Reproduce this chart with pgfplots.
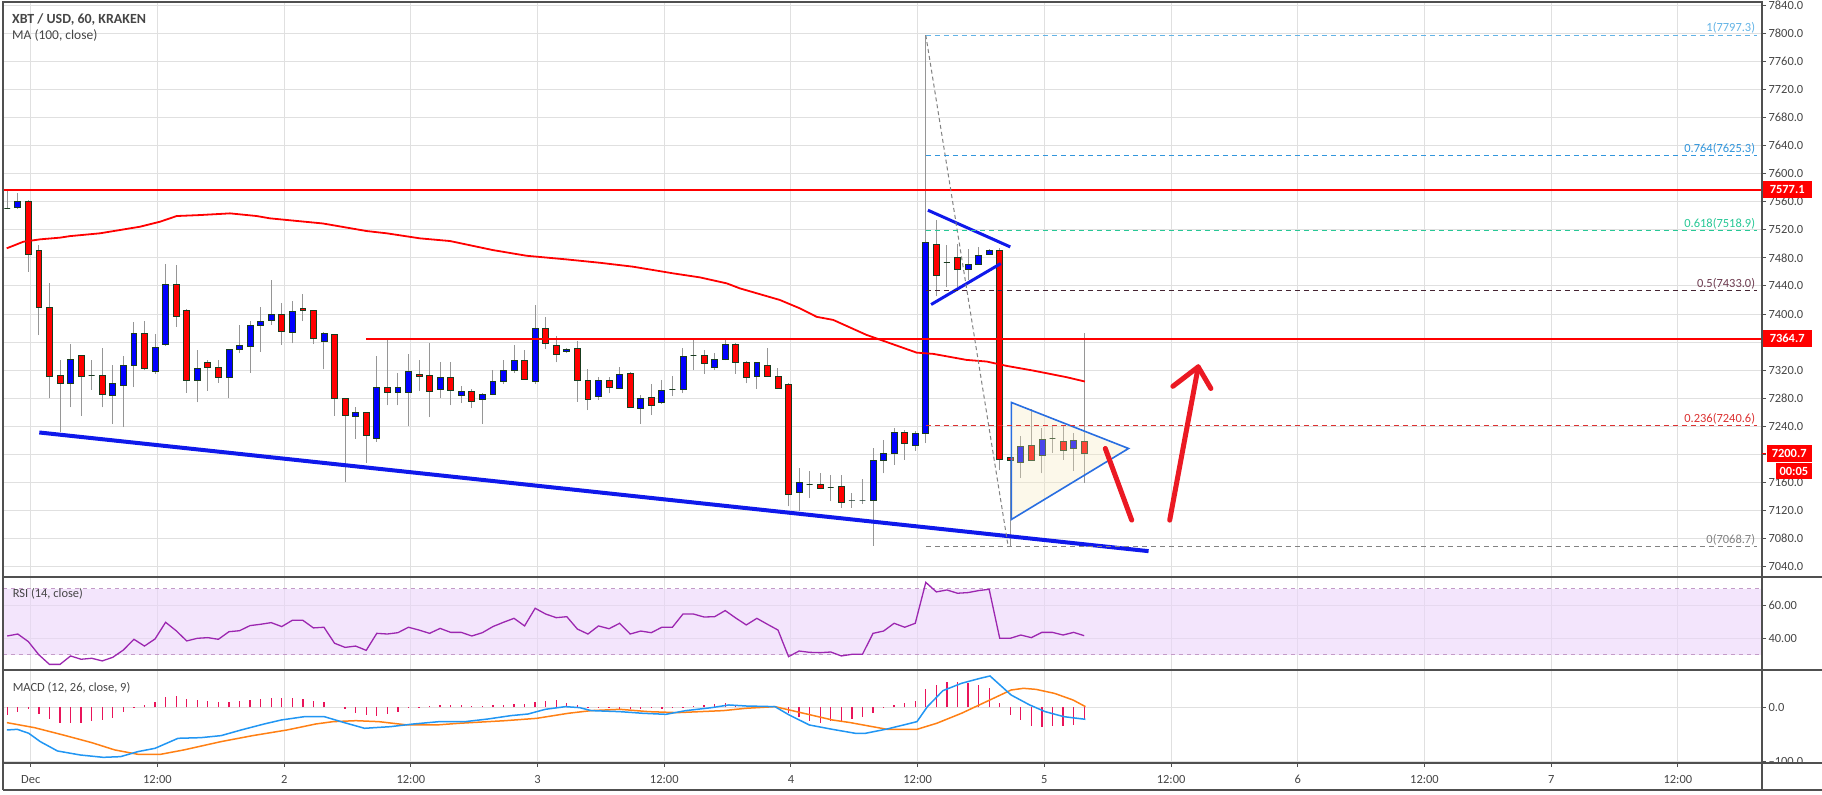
\documentclass[border=0pt]{standalone}
\usepackage{fontspec}
\setmainfont{Carlito}
\usepackage{pgfplots}
\usepackage{pgfplotstable}
\pgfplotsset{compat=1.18}
\definecolor{upc}{RGB}{0,0,255}
\definecolor{downc}{RGB}{255,0,0}
\definecolor{edgec}{RGB}{25,60,30}
\definecolor{wickc}{RGB}{150,150,150}
\definecolor{gridc}{RGB}{224,224,224}
\definecolor{framec}{RGB}{80,80,80}
\definecolor{tickc}{RGB}{70,70,70}
\definecolor{mac}{RGB}{255,0,0}
\definecolor{resc}{RGB}{255,0,0}
\definecolor{trendc}{RGB}{15,25,235}
\definecolor{tric}{RGB}{40,110,225}
\definecolor{trifill}{RGB}{248,235,188}
\definecolor{arrowc}{RGB}{235,25,35}
\definecolor{fibA}{RGB}{100,180,230}
\definecolor{fibB}{RGB}{50,150,220}
\definecolor{fibC}{RGB}{40,200,150}
\definecolor{fibD}{RGB}{70,35,50}
\definecolor{fibDt}{RGB}{110,60,80}
\definecolor{fibE}{RGB}{220,50,50}
\definecolor{fibF}{RGB}{130,130,130}
\definecolor{bandc}{RGB}{235,213,250}
\definecolor{banddash}{RGB}{195,155,200}
\definecolor{rsic}{RGB}{156,39,176}
\definecolor{macdc}{RGB}{33,150,243}
\definecolor{sigc}{RGB}{255,128,20}
\definecolor{histc}{RGB}{233,20,90}
\newcommand\fs{\fontsize{12.5}{14}\selectfont}

\pgfplotstableread{
k o h l c
-2 7551 7577 7549 7551
-1 7552 7573 7550 7560
0 7560 7562 7460 7485
1 7491 7498 7370 7410
2 7410 7444 7280 7311
3 7312 7335 7232 7301
4 7301 7357 7267 7335
5 7341 7342 7255 7311
6 7313 7335 7292 7313
7 7313 7351 7267 7285
8 7284 7327 7244 7301
9 7298 7340 7239 7327
10 7327 7389 7296 7372
11 7372 7390 7320 7322
12 7318 7372 7315 7353
13 7357 7471 7355 7442
14 7442 7470 7382 7396
15 7405 7407 7288 7306
16 7306 7349 7274 7323
17 7331 7334 7291 7324
18 7324 7334 7302 7309
19 7309 7350 7280 7350
20 7350 7384 7344 7355
21 7354 7390 7316 7384
22 7384 7410 7346 7389
23 7391 7448 7385 7400
24 7400 7415 7356 7375
25 7374 7418 7358 7404
26 7408 7428 7390 7405
27 7405 7406 7357 7365
28 7361 7374 7321 7373
29 7371 7372 7255 7280
30 7280 7281 7161 7255
31 7254 7268 7222 7260
32 7260 7261 7188 7227
33 7223 7340 7218 7296
34 7296 7364 7270 7288
35 7288 7316 7270 7296
36 7289 7343 7240 7318
37 7314 7335 7290 7311
38 7313 7358 7253 7290
39 7293 7332 7280 7310
40 7310 7332 7270 7291
41 7284 7297 7273 7290
42 7290 7293 7266 7275
43 7279 7288 7244 7286
44 7286 7320 7284 7304
45 7304 7334 7300 7320
46 7320 7356 7316 7334
47 7334 7349 7306 7307
48 7304 7413 7300 7379
49 7379 7396 7350 7358
50 7355 7369 7331 7343
51 7347 7352 7345 7350
52 7351 7362 7275 7306
53 7306 7321 7263 7279
54 7283 7310 7278 7306
55 7306 7310 7287 7296
56 7294 7325 7294 7314
57 7316 7317 7267 7267
58 7266 7285 7244 7280
59 7281 7300 7256 7270
60 7274 7306 7272 7291
61 7293 7311 7283 7293
62 7293 7351 7287 7340
63 7341 7364 7320 7341
64 7341 7349 7315 7330
65 7324 7344 7320 7336
66 7336 7363 7334 7357
67 7357 7358 7315 7331
68 7331 7333 7301 7309
69 7311 7332 7293 7331
70 7327 7351 7310 7311
71 7311 7323 7293 7294
72 7300 7302 7126 7143
73 7146 7180 7119 7160
74 7157 7176 7138 7157
75 7157 7173 7150 7152
76 7153 7171 7133 7153
77 7155 7170 7124 7132
78 7135 7145 7124 7135
79 7135 7165 7130 7135
80 7135 7209 7070 7192
81 7192 7221 7173 7202
82 7202 7237 7185 7232
83 7232 7235 7192 7215
84 7213 7233 7205 7230
85 7230 7797.3 7216 7502
86 7499 7534 7425 7455
87 7474 7498 7439 7474
88 7481 7500 7439 7463
89 7464 7493 7448 7471
90 7471 7496 7470 7484
91 7485 7493 7484 7491
92 7490 7494 7178 7193
93 7195 7196 7068.7 7191
94 7188 7226 7166 7211
95 7213 7264 7197 7191
96 7198 7237 7173 7222
97 7223 7242 7202 7223
98 7219 7242 7192 7206
99 7208 7230 7176 7220
100 7219 7373 7159 7200.7
}\candles

\pgfplotstableread{
k v
-2.05 7493.6
-0.47 7503
1.11 7506.4
3.0 7508.8
3.95 7511
6.79 7515
10.58 7524.4
12.47 7531.5
14.05 7539.6
16.26 7541
19.1 7543.4
21.63 7539.6
22.89 7536.3
27.9 7529
32.05 7518.2
33.94 7515
37.09 7507.8
39.93 7504
44.03 7491
47.2 7483
50.98 7477.8
54.14 7473
57.29 7467.4
61.08 7457.9
63.6 7452.2
66.14 7443.7
67.4 7436.5
71.18 7420
73.08 7408
74.66 7396
76.23 7391.6
79.39 7370.2
84.13 7345
85.7 7343.2
88.86 7334.6
90.76 7332.3
92.65 7326.1
95.17 7319.4
98.33 7310
100.07 7303.8
}\madata

\pgfplotstableread{
k v
-2 41.4
-1 42.6
0 38
1 30
2 24.2
3 24.2
4 29.3
5 27.3
6 27.9
7 26.3
8 28.5
9 32.9
10 39.4
11 35.3
12 39.6
13 49.7
14 44.6
15 38.4
16 40
17 40.4
18 39.4
19 44
20 44.6
21 47.7
22 48.5
23 49.5
24 47.1
25 50.9
26 50.9
27 46.3
28 46.7
29 37
30 34.5
31 35.3
32 32.7
33 43
34 42.6
35 43.4
36 46.7
37 45
38 43
39 46
40 43.6
41 43.6
42 41.4
43 43.4
44 47.1
45 49.7
46 52.1
47 47.5
48 58.2
49 54.7
50 52.5
51 53.1
52 45.6
53 42.6
54 47.5
55 45.8
56 49.1
57 42.6
58 44.4
59 43.4
60 46.7
61 46.7
62 54.7
63 54.7
64 52.9
65 53.1
66 56.8
67 52.3
68 48.1
69 52.1
70 48.5
71 45
72 28.9
73 32.3
74 31.5
75 31.3
76 31.7
77 29.3
78 30.3
79 30.3
80 43
81 44.4
82 49.1
83 46.7
84 49.1
85 73.9
86 68.1
87 69.3
88 67.3
89 67.7
90 68.9
91 69.7
92 40
93 40
94 42
95 40.4
96 43.6
97 43.6
98 42
99 43.6
100 41.6
}\rsidata

\pgfplotstableread{
k v
-2 -14
-1 -8
0 -3
1 -12
2 -22
3 -28
4 -29
5 -28
6 -26
7 -23
8 -20
9 -8
10 -1
11 4
12 9
13 19
14 21
15 16
16 13
17 12
18 9
19 9
20 12
21 13
22 16
23 18
24 18
25 18
26 16
27 12
28 9
29 0
30 -4
31 -11
32 -15
33 -16
34 -12
35 -8
36 -2
37 1
38 2
39 4
40 4
41 4
42 3
43 2
44 4
45 4
46 6
47 6
48 10
49 12
50 13
51 8
52 4
53 1
54 -1
55 -2
56 -4
57 -4
58 -4
59 -2
60 -4
61 -1
62 1
63 2
64 4
65 6
66 8
67 4
68 2
69 1
70 0
71 0
72 -11
73 -17
74 -26
75 -28
76 -26
77 -26
78 -22
79 -17
80 -10
81 -2
82 4
83 8
84 12
85 33
86 41
87 47
88 47
89 44
90 41
91 35
92 8
93 -14
94 -24
95 -35
96 -37
97 -35
98 -34
99 -32
100 -22
}\histdata

\pgfplotstableread{
k v
-2.03 -41.7
-1.05 -40.5
0.04 -47.8
1.13 -63.1
2.76 -80.3
4.93 -87.7
7.10 -92
8.74 -90.7
10.37 -81.5
12.0 -75.4
13.09 -66.2
14.18 -57
16.34 -55.8
18.25 -52.1
20.15 -41.7
22.33 -30.7
23.96 -23.3
26.14 -17.2
28.03 -17.2
29.93 -28.2
31.84 -38.6
34.29 -35.6
36.46 -30.7
38.91 -26.4
41.35 -26.4
43.53 -21.5
45.7 -15.3
47.33 -12.3
48.97 -3.7
50.86 1.2
52.22 -0.6
53.31 -6.1
56.03 -8
58.21 -11
60.38 -12.9
62.28 -6.1
64.73 -0.6
66.35 4.3
67.99 2.4
70.71 1.2
72.06 -14.1
73.97 -32.5
76.15 -40.5
78.32 -47.8
79.28 -47.8
81.34 -39.9
84.16 -26.4
85.15 1.2
86.62 30.6
88.38 44.1
90.14 53.3
91.08 57.6
93.08 22.6
94.84 4.3
96.31 -8
98.07 -17.2
100.12 -22.1
}\macddata

\pgfplotstableread{
k v
-2.03 -28.2
0.58 -37.4
3.3 -50.9
6.01 -65
8.19 -78.4
10.37 -86.4
12.54 -86.4
14.72 -78.4
18.25 -63.1
21.24 -52.1
24.5 -41.7
27.22 -30.7
28.85 -26.4
31.02 -24.6
33.2 -26.4
35.92 -32.5
38.64 -32.5
40.8 -29.4
45.16 -24.6
48.14 -20.3
51.14 -11
53.31 -6.1
56.03 -3.7
58.75 -8
61.47 -9.8
65.81 -6.1
67.99 -1.8
70.71 1.2
73.43 -11
76.15 -23.3
77.81 -28
79.58 -34.3
81.34 -40.5
84.16 -40.5
86.03 -29.4
88.38 -11
90.73 10.4
93.08 31.8
94.25 34.9
95.43 33
97.19 25.6
98.95 13.4
100.12 1.2
}\sigdata

\pgfplotsset{
  chartbase/.style={
    scale only axis, anchor=south west, xmin=-2.4, xmax=164.2,
    width=1759bp,
    xtick={0.23,12.23,...,156.23},
    grid=major, major grid style={draw=gridc, line width=1bp},
    axis line style={draw=framec, line width=1.3bp},
    ytick pos=right, yticklabel pos=right,
    tick align=outside, major tick length=4bp,
    ytick style={draw=framec, line width=1bp},
    /pgf/number format/assume math mode=true,
    tick label style={font=\fs, text=tickc},
    yticklabel style={xshift=-1bp},
    scaled ticks=false,
  }
}

\begin{document}
\begin{tikzpicture}[x=1bp,y=1bp]
\path[use as bounding box] (0,0) rectangle (1822,795);
\fill[white] (0,0) rectangle (1822,795);

% ---------------- main price pane
\begin{axis}[chartbase, at={(3bp,218bp)}, height=575bp,
  ymin=7025.3, ymax=7844.6,
  ytick={7040,7080,...,7840},
  yticklabels={7040.0,7080.0,7120.0,7160.0,{},7240.0,7280.0,7320.0,{},7400.0,7440.0,7480.0,7520.0,7560.0,7600.0,7640.0,7680.0,7720.0,7760.0,7800.0,7840.0},
  xticklabels={}, xtick style={draw=none}]

\pgfplotstablegetrowsof{\candles}
\pgfmathtruncatemacro{\nrows}{\pgfplotsretval-1}
\pgfplotsforeachungrouped \i in {0,...,\nrows}{%
  \pgfplotstablegetelem{\i}{k}\of\candles \let\ck\pgfplotsretval
  \pgfplotstablegetelem{\i}{o}\of\candles \let\co\pgfplotsretval
  \pgfplotstablegetelem{\i}{h}\of\candles \let\ch\pgfplotsretval
  \pgfplotstablegetelem{\i}{l}\of\candles \let\cl\pgfplotsretval
  \pgfplotstablegetelem{\i}{c}\of\candles \let\cc\pgfplotsretval
  \pgfmathsetmacro{\xa}{\ck-0.28}%
  \pgfmathsetmacro{\xb}{\ck+0.28}%
  \ifdim\cc pt<\co pt \def\bodycol{downc}\else\def\bodycol{upc}\fi
  \edef\doplot{%
    \noexpand\addplot[draw=wickc, line width=1bp, forget plot] coordinates {(\ck,\cl) (\ck,\ch)};
    \noexpand\addplot[fill=\bodycol, draw=edgec, line width=0.8bp, forget plot] coordinates {(\xa,\co) (\xb,\co) (\xb,\cc) (\xa,\cc)} -- cycle;
  }\doplot
}

% MA 100
\addplot[mac, line width=1.8bp] table[x=k,y=v] {\madata};

% horizontal resistance lines
\addplot[resc, line width=2.2bp] coordinates {(-2.4,7577.1) (164.2,7577.1)};
\addplot[resc, line width=2.2bp] coordinates {(32,7364.7) (164.2,7364.7)};

% main falling trend line
\addplot[trendc, line width=4bp] coordinates {(1.04,7231.2) (106.1,7062.1)};
% flag
\addplot[trendc, line width=3bp] coordinates {(85.2,7547.9) (93.0,7495.6)};
\addplot[trendc, line width=3bp] coordinates {(85.5,7413.5) (92.1,7471.9)};

% triangle
\addplot[draw=tric, line width=1.6bp, fill=trifill, fill opacity=0.3] coordinates {(93.1,7274) (104.2,7208.4) (93.1,7107.2)} -- cycle;

% fibonacci
\addplot[fibF, dash pattern=on 4bp off 3bp, line width=1bp] coordinates {(85,7797.3) (92.8,7068.7)};
\addplot[fibA, dash pattern=on 5bp off 4bp, line width=1bp] coordinates {(85,7797.3) (163.7,7797.3)};
\addplot[fibB, dash pattern=on 5bp off 4bp, line width=1bp] coordinates {(85,7625.3) (163.7,7625.3)};
\addplot[fibC, dash pattern=on 5bp off 4bp, line width=1bp] coordinates {(85,7518.9) (163.7,7518.9)};
\addplot[fibD, dash pattern=on 5bp off 4bp, line width=1bp] coordinates {(85,7433.0) (163.7,7433.0)};
\addplot[fibE, dash pattern=on 5bp off 4bp, line width=1bp] coordinates {(85,7240.6) (163.7,7240.6)};
\addplot[fibF, dash pattern=on 5bp off 4bp, line width=1bp] coordinates {(85,7068.7) (163.7,7068.7)};
\node[anchor=south east, inner sep=1.5bp, text=fibA, font=\fs] at (axis cs:163.7,7797.3) {1(7797.3)};
\node[anchor=south east, inner sep=1.5bp, text=fibB, font=\fs] at (axis cs:163.7,7625.3) {0.764(7625.3)};
\node[anchor=south east, inner sep=1.5bp, text=fibC, font=\fs] at (axis cs:163.7,7518.9) {0.618(7518.9)};
\node[anchor=south east, inner sep=1.5bp, text=fibDt, font=\fs] at (axis cs:163.7,7433.0) {0.5(7433.0)};
\node[anchor=south east, inner sep=1.5bp, text=fibE, font=\fs] at (axis cs:163.7,7240.6) {0.236(7240.6)};
\node[anchor=south east, inner sep=1.5bp, text=fibF, font=\fs] at (axis cs:163.7,7068.7) {0(7068.7)};

% red arrows
\addplot[arrowc, line width=5bp, line cap=round] coordinates {(102,7208.4) (104.5,7106.3)};
\addplot[arrowc, line width=5bp, line cap=round] coordinates {(108.1,7106.3) (110.8,7324.7)};
\addplot[arrowc, line width=5bp, line cap=round, line join=round] coordinates {(108.4,7297) (110.8,7324.7) (112,7293.9)};
\end{axis}

% ---------------- RSI pane
\begin{axis}[chartbase, at={(3bp,125bp)}, height=93bp,
  ymin=20.8, ymax=77.15, ytick={40,60}, yticklabels={40.00,60.00},
  xticklabels={}, xtick style={draw=none}]
\addplot[fill=bandc, fill opacity=0.6, draw=none] coordinates {(-2.4,30) (164.2,30) (164.2,70) (-2.4,70)} -- cycle;
\addplot[banddash, dash pattern=on 4bp off 4bp, line width=1bp] coordinates {(-2.4,70) (164.2,70)};
\addplot[banddash, dash pattern=on 4bp off 4bp, line width=1bp] coordinates {(-2.4,30) (164.2,30)};
\addplot[rsic, line width=1.3bp] table[x=k,y=v] {\rsidata};
\end{axis}

% ---------------- MACD pane
\begin{axis}[chartbase, at={(3bp,32bp)}, height=93bp,
  ymin=-102.4, ymax=68.6, ytick={-100,0}, yticklabels={\textendash100.0,0.0},
  xtick pos=bottom, xtick style={draw=framec, line width=1bp},
  xticklabels={Dec,12:00,2,12:00,3,12:00,4,12:00,5,12:00,6,12:00,7,12:00},
  xticklabel style={yshift=-5bp}]
\addplot[ycomb, histc, line width=1.3bp] table[x=k,y=v] {\histdata};
\addplot[sigc, line width=1.5bp] table[x=k,y=v] {\sigdata};
\addplot[macdc, line width=1.5bp] table[x=k,y=v] {\macddata};
\end{axis}

% frame and separators
\fill[white] (1763,5.7) rectangle (1822,31.3);
\draw[framec, line width=1.3bp] (3,218) -- (1822,218);
\draw[framec, line width=1.3bp] (3,125) -- (1822,125);
\draw[framec, line width=1.3bp] (3,32) -- (1822,32);
\draw[framec, line width=1.3bp] (3,5) -- (1822,5);
\draw[framec, line width=1.3bp] (3,5) -- (3,793);
\draw[framec, line width=1.3bp] (1762,5) -- (1762,793);

% titles
\node[anchor=base west, inner sep=0, text=tickc, font=\fontsize{14}{16}\selectfont\bfseries] at (12,771) {XBT / USD, 60, KRAKEN};
\node[anchor=base west, inner sep=0, text=tickc, font=\fontsize{13.5}{16}\selectfont] at (12,755.5) {MA (100, close)};
\node[anchor=base west, inner sep=0, text=tickc, font=\fs] at (12.6,197) {RSI (14, close)};
\node[anchor=base west, inner sep=0, text=tickc, font=\fs] at (12.6,103.3) {MACD (12, 26, close, 9)};

% price tags
\draw[downc, line width=1bp] (1762,341.7) -- (1766,341.7);
\node[fill=downc, text=white, font=\fs\bfseries, minimum width=49bp, minimum height=16.7bp, inner sep=0] at (1787.2,605.7) {7577.1};
\node[fill=downc, text=white, font=\fs\bfseries, minimum width=49bp, minimum height=16.7bp, inner sep=0] at (1787.2,456.7) {7364.7};
\node[fill=downc, text=white, font=\fs\bfseries, minimum width=45bp, minimum height=16.7bp, inner sep=0] at (1789.2,341.7) {7200.7};
\node[fill=downc, text=white, font=\fs\bfseries, minimum width=35.7bp, minimum height=16.3bp, inner sep=0] at (1793.9,323.8) {00:05};
\end{tikzpicture}
\end{document}
